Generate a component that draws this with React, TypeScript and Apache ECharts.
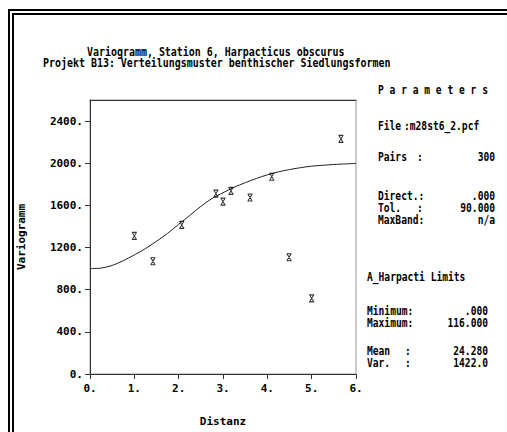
import React, { useEffect, useRef } from "react";
import * as echarts from "echarts";

// ---- data ----
const titleLines = [
  "Variogramm, Station 6, Harpacticus obscurus",
  "Projekt B13: Verteilungsmuster benthischer Siedlungsformen",
];
const xTickValues = [0, 1, 2, 3, 4, 5, 6];
const yTickValues = [0, 400, 800, 1200, 1600, 2000, 2400];

// experimental variogram points
const lagDist = [1.0, 1.42, 2.07, 2.84, 3.0, 3.18, 3.61, 4.1, 4.49, 5.0, 5.66];
const semivar = [1310, 1070, 1415, 1712, 1635, 1738, 1675, 1872, 1108, 718, 2231];

// fitted model curve
const modelDist = [0, 0.25, 0.5, 0.75, 1.0, 1.25, 1.5, 1.75, 2.0, 2.25, 2.5, 2.75, 3.0, 3.25, 3.5, 3.75, 4.0, 4.25, 4.5, 4.75, 5.0, 5.5, 6.0];
const modelVar = [1000, 1005, 1030, 1075, 1130, 1190, 1260, 1335, 1420, 1505, 1590, 1665, 1720, 1772, 1815, 1855, 1890, 1918, 1940, 1958, 1972, 1988, 1998];

// parameter panel
const upperLabels = ["File", "Pairs", "Direct.:", "Tol.", "MaxBand:"];
const upperColons = ["", ":", "", ":", ""];
const upperValues = [":m28st6_2.pcf", "300", ".000", "90.000", "n/a"];
const lowerHeading = "A_Harpacti Limits";
const lowerLabels = ["Minimum:", "Maximum:", "Mean", "Var."];
const lowerColons = ["", "", ":", ":"];
const lowerValues = [".000", "116.000", "24.280", "1422.0"];

const FONT = "'DejaVu Sans Mono', 'Liberation Mono', monospace";

export default function App() {
  const ref = useRef<HTMLDivElement>(null);

  useEffect(() => {
    if (!ref.current) return;
    const chart = echarts.init(ref.current, null, { renderer: "svg" });

    const txt = (text: string, x: number, y: number, opts: any = {}) => ({
      type: "text",
      x,
      y,
      scaleX: opts.scaleX ?? 0.83,
      silent: true,
      style: {
        text,
        fill: "#000",
        font: `${opts.weight ?? "bold"} ${opts.size ?? 12}px ${FONT}`,
        textAlign: opts.align ?? "left",
        textVerticalAlign: "middle",
      },
    });
    const ptxt = (text: string, x: number, y: number, align = "left") =>
      txt(text, x, y, { weight: "bold", size: 13, scaleX: 0.74, align });

    const graphics: any[] = [];
    // double frame
    const frameStyle = { stroke: "#000", lineWidth: 2 };
    graphics.push({ type: "line", shape: { x1: 9, y1: 9, x2: 9, y2: 432 }, style: frameStyle, silent: true });
    graphics.push({ type: "line", shape: { x1: 13, y1: 13, x2: 13, y2: 432 }, style: frameStyle, silent: true });
    graphics.push({ type: "line", shape: { x1: 8, y1: 10, x2: 507, y2: 10 }, style: frameStyle, silent: true });
    graphics.push({ type: "line", shape: { x1: 12, y1: 14, x2: 507, y2: 14 }, style: frameStyle, silent: true });

    // titles
    graphics.push(txt(titleLines[0], 87, 52));
    graphics.push(txt(titleLines[1], 43, 63));

    // parameters panel
    graphics.push(ptxt("P a r a m e t e r s", 378, 89));
    const upperY = [125, 156, 195, 207, 219];
    upperLabels.forEach((l, i) => {
      graphics.push(ptxt(l, 378, upperY[i]));
      if (upperColons[i]) graphics.push(ptxt(upperColons[i], 417, upperY[i]));
      if (i === 0) graphics.push(ptxt(upperValues[i], 404, upperY[i]));
      else graphics.push(ptxt(upperValues[i], 495, upperY[i], "right"));
    });
    graphics.push(ptxt(lowerHeading, 367, 276));
    const lowerY = [310, 322, 350, 362];
    lowerLabels.forEach((l, i) => {
      graphics.push(ptxt(l, 367, lowerY[i]));
      if (lowerColons[i]) graphics.push(ptxt(lowerColons[i], 405, lowerY[i]));
      graphics.push(ptxt(lowerValues[i], 488, lowerY[i], "right"));
    });

    const labelStyle = {
      color: "#000",
      fontFamily: FONT,
      fontWeight: "bold",
      fontSize: 11,
    };

    chart.setOption({
      animation: false,
      backgroundColor: "#fff",
      grid: {
        left: 90,
        top: 100,
        right: 151,
        bottom: 54,
        show: true,
        borderColor: "#999",
        borderWidth: 1,
        backgroundColor: "transparent",
      },
      xAxis: [
        {
          type: "value",
          min: 0,
          max: 6,
          interval: 1,
          name: "Distanz",
          nameLocation: "middle",
          nameGap: 42,
          nameTextStyle: { ...labelStyle },
          axisLine: { show: true, onZero: false, lineStyle: { color: "#333", width: 1 } },
          axisTick: { show: true, length: 5, customValues: xTickValues, lineStyle: { color: "#333" } },
          axisLabel: { ...labelStyle, margin: 9, customValues: xTickValues, formatter: (v: number) => `${v}.` },
          splitLine: { show: false },
        },
        {
          type: "value",
          position: "top",
          min: 0,
          max: 6,
          axisLine: { show: true, onZero: false, lineStyle: { color: "#333", width: 1 } },
          axisTick: { show: false },
          axisLabel: { show: false },
          splitLine: { show: false },
        },
      ],
      yAxis: {
        type: "value",
        min: 0,
        max: 2600,
        name: "Variogramm",
        nameLocation: "middle",
        nameGap: 63,
        nameRotate: 90,
        nameTextStyle: { ...labelStyle },
        axisLine: { show: true, onZero: false, lineStyle: { color: "#333", width: 1 } },
        axisTick: { show: true, length: 5, customValues: yTickValues, lineStyle: { color: "#333" } },
        axisLabel: {
          ...labelStyle,
          margin: 7,
          customValues: yTickValues,
          formatter: (v: number) => `${v}.`,
        },
        splitLine: { show: false },
      },
      series: [
        {
          type: "line",
          data: modelDist.map((d, i) => [d, modelVar[i]]),
          showSymbol: false,
          symbol: "none",
          smooth: 0.3,
          lineStyle: { color: "#222", width: 1 },
          silent: true,
          z: 2,
        },
        {
          type: "scatter",
          data: lagDist.map((d, i) => [d, semivar[i]]),
          symbol: "path://M0,0 L6,0 M0.6,0.3 L5.4,7.7 M5.4,0.3 L0.6,7.7 M0,8 L6,8",
          symbolSize: [5, 7],
          itemStyle: { color: "none", borderColor: "#000", borderWidth: 1 },
          silent: true,
          z: 3,
        },
      ],
      graphic: graphics,
    });

    return () => chart.dispose();
  }, []);

  return (
    <div
      ref={ref}
      style={{ position: "fixed", left: 0, top: 0, width: 507, height: 432, background: "#fff" }}
    />
  );
}
